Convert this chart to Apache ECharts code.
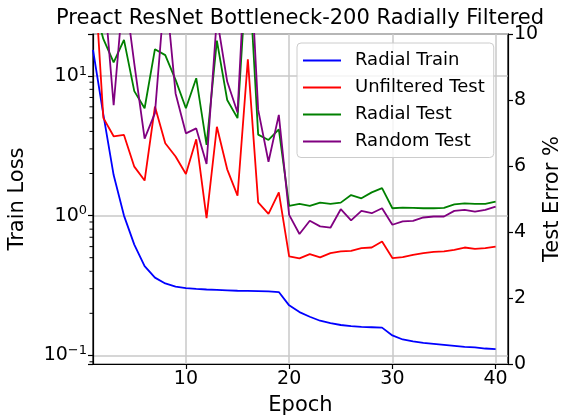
<!DOCTYPE html>
<html>
<head>
<meta charset="utf-8">
<script src="https://cdn.jsdelivr.net/npm/echarts@6/dist/echarts.min.js"></script>
<style>
html,body{margin:0;padding:0;background:#fff;}
#chart{width:563px;height:420px;}
</style>
</head>
<body>
<div id="chart"></div>
<script>
const epochs = [1,2,3,4,5,6,7,8,9,10,11,12,13,14,15,16,17,18,19,20,21,22,23,24,25,26,27,28,29,30,31,32,33,34,35,36,37,38,39,40];
const radialTrain = [15.3,5.3,1.95,1.0,0.62,0.435,0.36,0.327,0.31,0.303,0.299,0.296,0.294,0.292,0.29,0.289,0.288,0.287,0.284,0.228,0.204,0.189,0.177,0.170,0.165,0.162,0.160,0.159,0.158,0.139,0.130,0.126,0.123,0.121,0.119,0.117,0.115,0.114,0.112,0.111];
const unfilteredTest = [12.6,7.46,6.9,6.94,5.98,5.56,7.8,6.69,6.29,5.76,6.81,4.42,7.19,5.90,5.10,9.23,4.90,4.55,5.20,3.26,3.20,3.33,3.23,3.36,3.41,3.43,3.51,3.53,3.71,3.21,3.24,3.31,3.36,3.40,3.41,3.46,3.53,3.49,3.51,3.56];
const radialTest = [11.0,9.85,9.14,9.82,8.27,7.75,9.54,9.36,8.61,7.75,8.66,6.64,9.80,8.0,7.45,12.5,6.95,6.79,7.11,4.79,4.85,4.79,4.89,4.85,4.89,5.12,5.02,5.20,5.33,4.72,4.74,4.73,4.72,4.72,4.73,4.84,4.87,4.85,4.85,4.92];
const randomTest = [13.0,11.6,7.84,11.5,9.1,6.83,7.6,11.5,8.2,6.99,7.14,6.06,10.5,8.56,7.62,13.7,7.70,6.13,7.55,4.52,3.94,4.34,4.17,4.13,4.69,4.35,4.64,4.57,4.72,4.22,4.32,4.34,4.44,4.47,4.47,4.64,4.67,4.62,4.67,4.77];
const xTickValues = [10,20,30,40];
const lossMinorTicks = [0.09,0.2,0.3,0.4,0.5,0.6,0.7,0.8,0.9,2,3,4,5,6,7,8,9];
const seriesNames = ['Radial Train','Unfiltered Test','Radial Test','Random Test'];
const seriesColors = ['#0000ff','#ff0000','#008000','#800080'];

const FONT = 'DejaVu Sans';
const pair = (vals) => epochs.map((e, i) => [e, vals[i]]);

function logLabel(v) {
  const e = Math.log10(v);
  const r = Math.round(e);
  if (Math.abs(e - r) > 1e-6) return '';
  const exp = r < 0 ? '\u2212' + Math.abs(r) : String(r);
  return '{b|10}{s|' + exp + '}';
}

const chart = echarts.init(document.getElementById('chart'), null, {renderer: 'canvas'});
const option = {
  animation: false,
  backgroundColor: '#ffffff',
  textStyle: {fontFamily: FONT},
  title: {
    text: 'Preact ResNet Bottleneck-200 Radially Filtered',
    left: 56,
    top: 8,
    padding: 0,
    textStyle: {fontFamily: FONT, fontSize: 21, fontWeight: 'normal', color: '#000'}
  },
  grid: {left: 93, right: 55, top: 34, bottom: 56, show: true, borderColor: '#000', borderWidth: 1.2, backgroundColor: 'transparent', containLabel: false, outerBoundsMode: 'none'},
  legend: {
    orient: 'vertical',
    left: 297,
    top: 43,
    data: seriesNames,
    icon: 'rect',
    itemWidth: 38,
    itemHeight: 2,
    itemGap: 7,
    padding: [7.5, 9, 6, 6],
    backgroundColor: 'rgba(255,255,255,0.8)',
    borderColor: '#cccccc',
    borderWidth: 1,
    borderRadius: 4,
    textStyle: {fontFamily: FONT, fontSize: 18, color: '#000', lineHeight: 20, padding: [0, 0, 0, 9]}
  },
  xAxis: {
    type: 'value',
    min: 1,
    max: 41.2,
    name: 'Epoch',
    nameLocation: 'middle',
    nameGap: 31,
    nameMoveOverlap: false,
    nameTextStyle: {fontFamily: FONT, fontSize: 21, color: '#000'},
    axisLine: {show: true, lineStyle: {color: '#000', width: 1.2}},
    axisTick: {show: true, inside: false, length: 5, lineStyle: {color: '#000', width: 1.2}, customValues: xTickValues},
    axisLabel: {fontFamily: FONT, fontSize: 19, color: '#000', margin: 6, customValues: xTickValues},
    splitLine: {show: true, lineStyle: {color: '#c8c8c8', width: 1.5}}
  },
  yAxis: [
    {
      type: 'log',
      logBase: 10,
      min: 0.0868,
      max: 19.9,
      position: 'left',
      name: 'Train Loss',
      nameLocation: 'middle',
      nameRotate: 90,
      nameGap: 65,
      nameTextStyle: {fontFamily: FONT, fontSize: 21, color: '#000'},
      axisLine: {show: true, lineStyle: {color: '#000', width: 1.2}},
      axisTick: {show: true, inside: false, length: 5, lineStyle: {color: '#000', width: 1.2}},
      axisLabel: {
        margin: 6,
        formatter: logLabel,
        rich: {
          b: {fontFamily: FONT, fontSize: 19, color: '#000', lineHeight: 22},
          s: {fontFamily: FONT, fontSize: 13, color: '#000', lineHeight: 13, verticalAlign: 'top'}
        }
      },
      splitLine: {show: true, lineStyle: {color: '#c8c8c8', width: 1.5}},
      minorTick: {show: false},
      minorSplitLine: {show: false}
    },
    {
      type: 'value',
      min: 0,
      max: 10,
      interval: 2,
      position: 'right',
      name: 'Test Error %',
      nameLocation: 'middle',
      nameRotate: 90,
      nameGap: 34,
      nameMoveOverlap: false,
      nameTextStyle: {fontFamily: FONT, fontSize: 21, color: '#000'},
      axisLine: {show: true, lineStyle: {color: '#000', width: 1.2}},
      axisTick: {show: true, inside: false, length: 5, lineStyle: {color: '#000', width: 1.2}},
      axisLabel: {fontFamily: FONT, fontSize: 19, color: '#000', margin: 6},
      splitLine: {show: false}
    }
  ],
  series: [
    {name: seriesNames[0], type: 'line', yAxisIndex: 0, data: pair(radialTrain), showSymbol: false, symbol: 'none', lineStyle: {color: seriesColors[0], width: 1.8}, itemStyle: {color: seriesColors[0]}, clip: true, z: 3},
    {name: seriesNames[1], type: 'line', yAxisIndex: 1, data: pair(unfilteredTest), showSymbol: false, symbol: 'none', lineStyle: {color: seriesColors[1], width: 1.8}, itemStyle: {color: seriesColors[1]}, clip: true, z: 3},
    {name: seriesNames[2], type: 'line', yAxisIndex: 1, data: pair(radialTest), showSymbol: false, symbol: 'none', lineStyle: {color: seriesColors[2], width: 1.8}, itemStyle: {color: seriesColors[2]}, clip: true, z: 3},
    {name: seriesNames[3], type: 'line', yAxisIndex: 1, data: pair(randomTest), showSymbol: false, symbol: 'none', lineStyle: {color: seriesColors[3], width: 1.8}, itemStyle: {color: seriesColors[3]}, clip: true, z: 3},
    {
      name: 'minorTicks',
      type: 'custom',
      yAxisIndex: 0,
      silent: true,
      clip: false,
      data: lossMinorTicks.map(v => [1, v]),
      encode: {x: 0, y: 1},
      renderItem: function (params, api) {
        const p = api.coord([api.value(0), api.value(1)]);
        return {type: 'line', shape: {x1: p[0] - 3.5, y1: p[1], x2: p[0], y2: p[1]}, style: {stroke: '#000', lineWidth: 1}};
      },
      z: 5
    }
  ]
};
chart.setOption(option);
</script>
</body>
</html>
